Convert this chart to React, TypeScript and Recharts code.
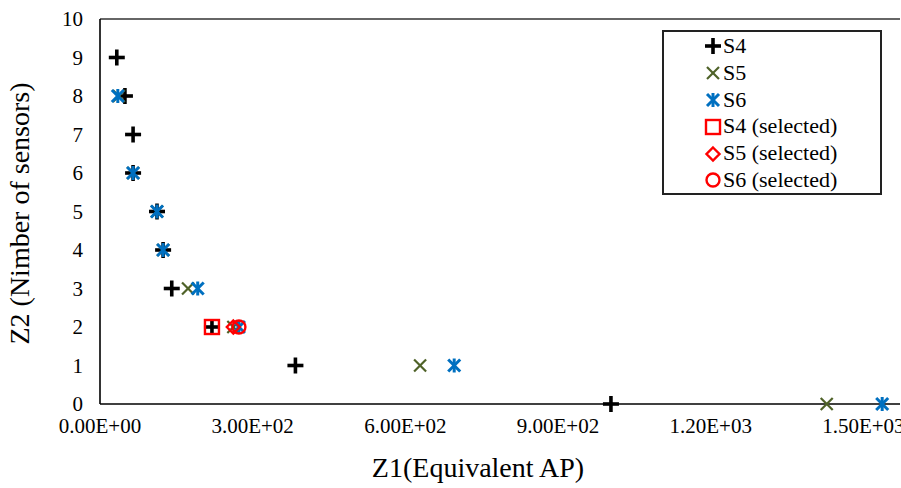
import React from 'react';
import { ScatterChart, Scatter, XAxis, YAxis, ReferenceLine } from 'recharts';

const S4_X = [33, 49, 65, 65, 112, 124, 141, 220, 384, 1004];
const S4_Y = [9, 8, 7, 6, 5, 4, 3, 2, 1, 0];
const S5_X = [37, 65, 112, 124, 173, 262, 629, 1428];
const S5_Y = [8, 6, 5, 4, 3, 2, 1, 0];
const S6_X = [35, 65, 112, 124, 192, 273, 696, 1537];
const S6_Y = [8, 6, 5, 4, 3, 2, 1, 0];
const S4_SEL_X = [220];
const S4_SEL_Y = [2];
const S5_SEL_X = [262];
const S5_SEL_Y = [2];
const S6_SEL_X = [273];
const S6_SEL_Y = [2];

const X_TICKS = [0, 300, 600, 900, 1200, 1500];
const Y_TICKS = [0, 1, 2, 3, 4, 5, 6, 7, 8, 9, 10];
const X_MAX = 1572;

const toPts = (xs: number[], ys: number[]) => xs.map((x, i) => ({ x, y: ys[i] }));

const FONT = "'Liberation Serif', 'DejaVu Serif', serif";
const RED = '#FF0000';
const GREEN = '#4F6228';
const BLUE = '#0070C0';

const fmtX = (v: number) => {
  const s = v.toExponential(2).toUpperCase();
  return s.replace(/E([+-])(\d)$/, 'E$10$2');
};

const Plus = ({ cx, cy }: any) => (
  <g>
    <line x1={cx - 8} y1={cy} x2={cx + 8} y2={cy} stroke="#000" strokeWidth={3.6} />
    <line x1={cx} y1={cy - 8} x2={cx} y2={cy + 8} stroke="#000" strokeWidth={3.6} />
  </g>
);
const Cross = ({ cx, cy }: any) => (
  <g>
    <line x1={cx - 6} y1={cy - 6} x2={cx + 6} y2={cy + 6} stroke={GREEN} strokeWidth={2.2} />
    <line x1={cx - 6} y1={cy + 6} x2={cx + 6} y2={cy - 6} stroke={GREEN} strokeWidth={2.2} />
  </g>
);
const Star = ({ cx, cy }: any) => (
  <g>
    <line x1={cx - 6} y1={cy - 6} x2={cx + 6} y2={cy + 6} stroke={BLUE} strokeWidth={3} />
    <line x1={cx - 6} y1={cy + 6} x2={cx + 6} y2={cy - 6} stroke={BLUE} strokeWidth={3} />
    <line x1={cx} y1={cy - 7} x2={cx} y2={cy + 7} stroke={BLUE} strokeWidth={3} />
  </g>
);
const Square = ({ cx, cy }: any) => (
  <rect x={cx - 7} y={cy - 7} width={14} height={14} fill="none" stroke={RED} strokeWidth={2.4} />
);
const Diamond = ({ cx, cy }: any) => (
  <polygon
    points={`${cx},${cy - 6.5} ${cx + 6.5},${cy} ${cx},${cy + 6.5} ${cx - 6.5},${cy}`}
    fill="none"
    stroke={RED}
    strokeWidth={2.4}
  />
);
const Circle = ({ cx, cy }: any) => (
  <circle cx={cx} cy={cy} r={6.5} fill="none" stroke={RED} strokeWidth={2.4} />
);

const SERIES = [
  { name: 'S4', data: toPts(S4_X, S4_Y), Shape: Plus },
  { name: 'S5', data: toPts(S5_X, S5_Y), Shape: Cross },
  { name: 'S6', data: toPts(S6_X, S6_Y), Shape: Star },
  { name: 'S4 (selected)', data: toPts(S4_SEL_X, S4_SEL_Y), Shape: Square },
  { name: 'S5 (selected)', data: toPts(S5_SEL_X, S5_SEL_Y), Shape: Diamond },
  { name: 'S6 (selected)', data: toPts(S6_SEL_X, S6_SEL_Y), Shape: Circle },
];

const YLabel = ({ viewBox }: any) => {
  const cy = viewBox.y + viewBox.height / 2 + 2;
  return (
    <text
      x={29}
      y={cy}
      transform={`rotate(-90, 29, ${cy})`}
      textAnchor="middle"
      style={{ fontFamily: FONT }}
      fontSize={28}
      fill="#000"
    >
      Z2 (Nimber of sensors)
    </text>
  );
};

const XLabel = ({ viewBox }: any) => (
  <text x={478} y={viewBox.y + 73} textAnchor="middle" style={{ fontFamily: FONT }} fontSize={28} fill="#000">
    Z1(Equivalent AP)
  </text>
);

export default function App() {
  return (
    <div style={{ position: 'absolute', left: 0, top: 0, width: 901, height: 488, background: '#fff', fontFamily: FONT }}>
      <ScatterChart width={901} height={488} margin={{ top: 19, right: 1, bottom: 0, left: 0 }} style={{ fontFamily: FONT }}>
        <XAxis
          type="number"
          dataKey="x"
          domain={[0, X_MAX]}
          ticks={X_TICKS}
          interval={0}
          tickFormatter={fmtX}
          tickLine={false}
          tickSize={0}
          tickMargin={14}
          height={84}
          axisLine={{ stroke: '#000', strokeWidth: 1.6 }}
          tick={{ fill: '#000', fontSize: 21, style: { fontFamily: FONT } }}
          allowDataOverflow
          label={<XLabel />}
        />
        <YAxis
          type="number"
          dataKey="y"
          domain={[0, 10]}
          ticks={Y_TICKS}
          interval={0}
          tickLine={false}
          tickSize={0}
          tickMargin={17}
          width={100}
          axisLine={{ stroke: '#000', strokeWidth: 1.6 }}
          tick={{ fill: '#000', fontSize: 21, style: { fontFamily: FONT } }}
          label={<YLabel />}
        />
        <ReferenceLine y={10} stroke="#333" strokeWidth={1.4} />
        {SERIES.map((s) => (
          <Scatter
            key={s.name}
            name={s.name}
            data={s.data}
            isAnimationActive={false}
            shape={(p: any) => <s.Shape cx={p.cx} cy={p.cy} />}
          />
        ))}
      </ScatterChart>
      <div
        style={{
          position: 'absolute',
          left: 662,
          top: 30,
          width: 216,
          height: 160,
          border: '2px solid #222',
          background: '#fff',
          fontFamily: FONT,
          fontSize: 22,
          color: '#000',
          paddingTop: 1,
          boxSizing: 'content-box',
        }}
      >
        {SERIES.map((s) => (
          <div key={s.name} style={{ height: 26.8, display: 'flex', alignItems: 'center', position: 'relative' }}>
            <svg width={20} height={20} style={{ position: 'absolute', left: 39 }}>
              <s.Shape cx={10} cy={10} />
            </svg>
            <span style={{ position: 'absolute', left: 59, lineHeight: '26.8px', whiteSpace: 'nowrap' }}>{s.name}</span>
          </div>
        ))}
      </div>
    </div>
  );
}
